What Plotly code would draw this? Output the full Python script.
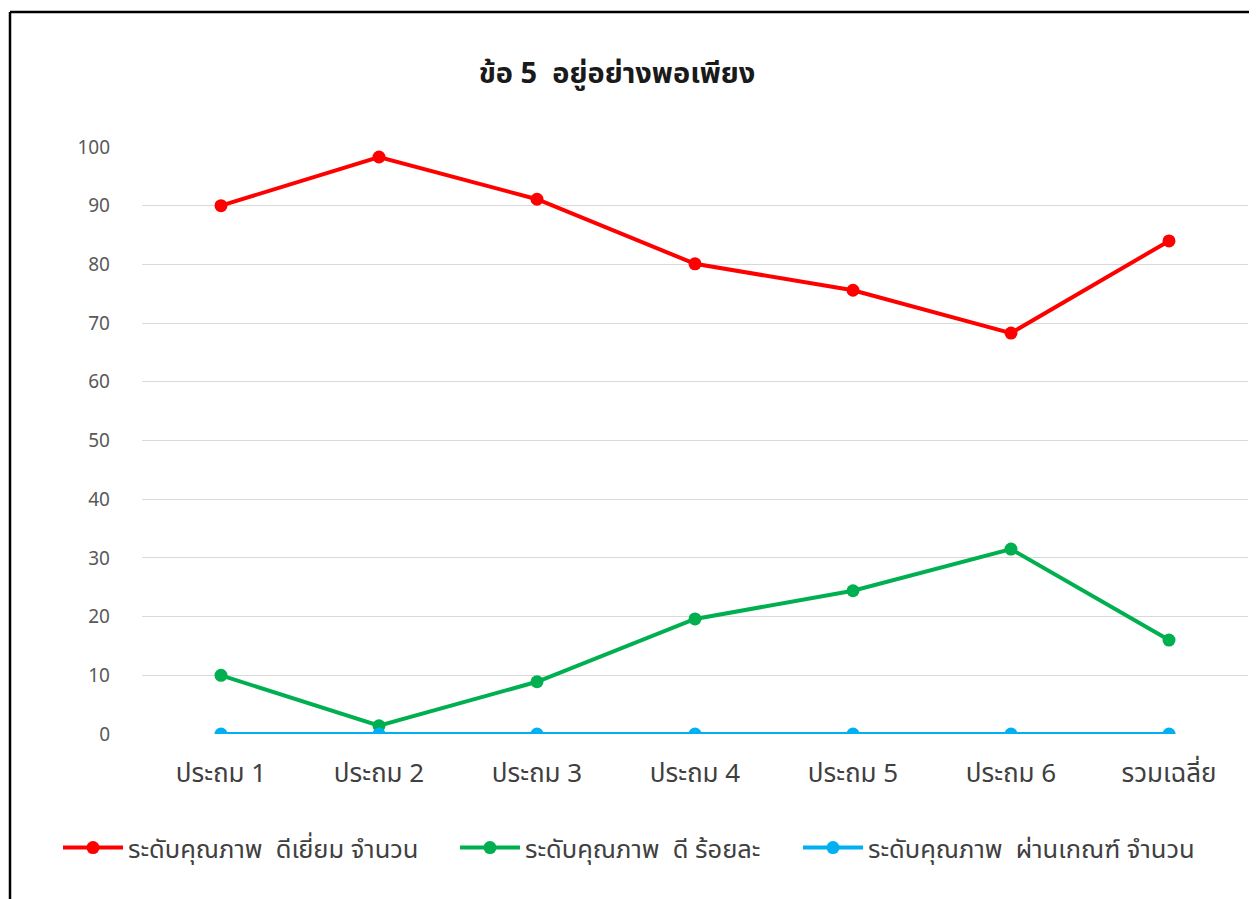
import plotly.graph_objects as go

categories = ["ประถม 1", "ประถม 2", "ประถม 3", "ประถม 4", "ประถม 5", "ประถม 6", "รวมเฉลี่ย"]
excellent = [90.0, 98.3, 91.1, 80.1, 75.6, 68.3, 84.0]
good = [10.0, 1.4, 8.9, 19.6, 24.4, 31.5, 16.0]
passed = [0, 0, 0, 0, 0, 0, 0]
names = ["ระดับคุณภาพ  ดีเยี่ยม จำนวน", "ระดับคุณภาพ  ดี ร้อยละ", "ระดับคุณภาพ  ผ่านเกณฑ์ จำนวน"]
colors = ["#ff0000", "#00b050", "#00b0f0"]
title = "ข้อ 5  อยู่อย่างพอเพียง"

OFF = 8  # page body margin
W, H = 1257 - OFF, 899 - OFF
ml, mr, mt, mb = 142 - OFF, 9, 147 - OFF, 165
pw, ph = W - ml - mr, H - mt - mb

def px2x(px):
    return (px - OFF - ml) / pw

def py2y(py):
    return (H - mb - (py - OFF)) / ph

FONT = "Tahoma, 'Noto Sans Thai', 'Noto Sans', 'DejaVu Sans', sans-serif"

legend_ids = ["legend", "legend2", "legend3"]
legend_left_px = [63, 460, 803]

fig = go.Figure()
for name, vals, c, lg in zip(names, [excellent, good, passed], colors, legend_ids):
    fig.add_trace(go.Scatter(
        x=categories, y=vals, name=name, mode="lines+markers",
        line=dict(color=c, width=4),
        marker=dict(color=c, size=13),
        legend=lg,
    ))

legend_style = dict(orientation="h", xanchor="left", y=py2y(848), yanchor="middle",
                    font=dict(size=25.5, color="#404040"), itemwidth=60,
                    bgcolor="rgba(0,0,0,0)", borderwidth=0)

fig.update_layout(
    width=W, height=H,
    margin=dict(l=ml, r=mr, t=mt, b=mb),
    paper_bgcolor="white", plot_bgcolor="white",
    font=dict(family=FONT, color="#404040"),
    title=dict(text="<b>" + title + "</b>", x=(617 - OFF) / W, xanchor="center",
               y=1 - (73 - OFF) / H, yanchor="middle", yref="container",
               font=dict(size=29, color="#1a1a1a", family=FONT)),
    xaxis=dict(type="category", range=[-0.5, 6.5], showgrid=False, showline=False,
               zeroline=False, ticks="", tickfont=dict(size=26, color="#404040"),
               ticklabelstandoff=21),
    yaxis=dict(range=[0, 100], dtick=10, showgrid=True, gridcolor="#d9d9d9", gridwidth=1,
               zeroline=False, showline=False, ticks="",
               tickfont=dict(size=19, color="#595959"), ticklabelstandoff=31),
    legend=dict(x=px2x(legend_left_px[0] - 5), **legend_style),
    legend2=dict(x=px2x(legend_left_px[1] - 5), **legend_style),
    legend3=dict(x=px2x(legend_left_px[2] - 5), **legend_style),
    showlegend=True,
)

# border lines of the outer chart frame
fig.add_shape(type="line", xref="paper", yref="paper",
              x0=px2x(10), x1=px2x(1262), y0=py2y(12), y1=py2y(12),
              line=dict(color="black", width=2.5))
fig.add_shape(type="line", xref="paper", yref="paper",
              x0=px2x(10), x1=px2x(10), y0=py2y(12), y1=py2y(905),
              line=dict(color="black", width=2.5))

fig.write_html("out.html")
